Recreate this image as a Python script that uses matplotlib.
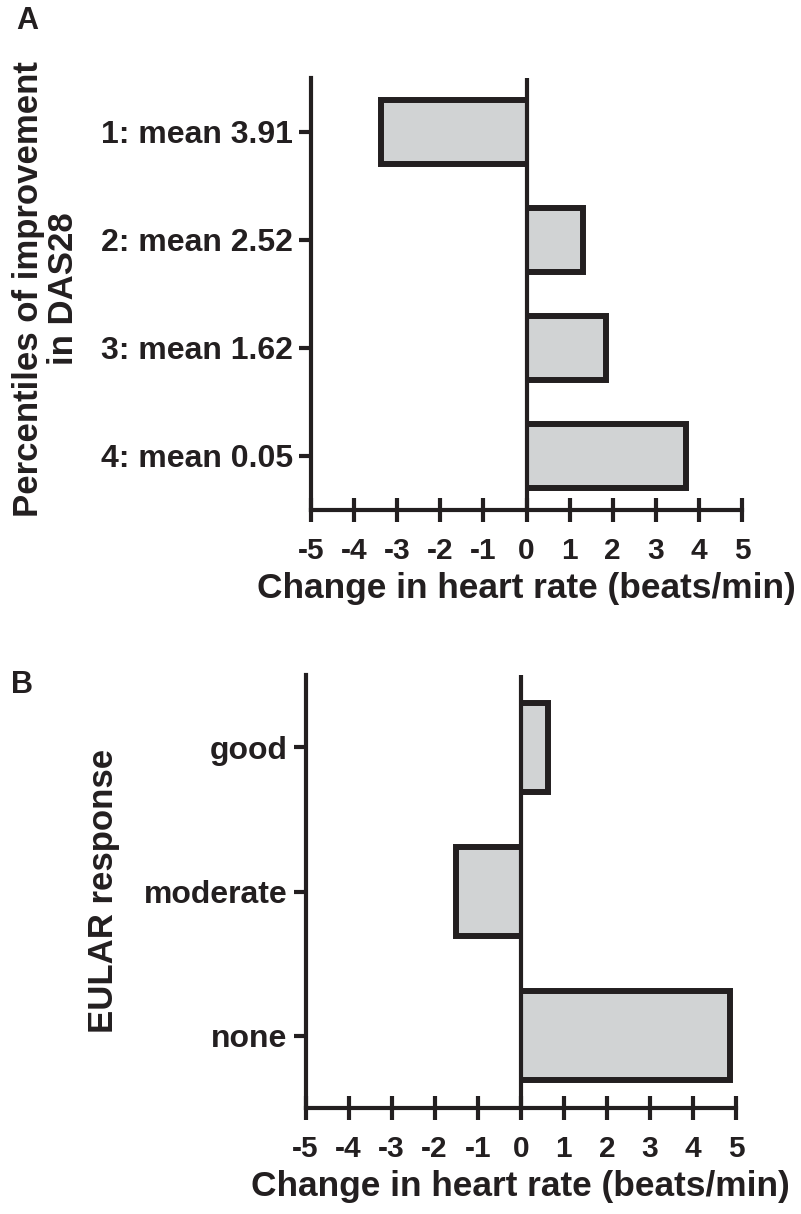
import matplotlib
matplotlib.use("Agg")
import matplotlib.pyplot as plt
import numpy as np

plt.rcParams['font.family'] = ['Liberation Sans', 'DejaVu Sans']
plt.rcParams['font.weight'] = 'bold'

# ---- data ----
cats_a = ["1: mean 3.91", "2: mean 2.52", "3: mean 1.62", "4: mean 0.05"]
vals_a = [-3.38, 1.30, 1.85, 3.71]
cats_b = ["good", "moderate", "none"]
vals_b = [0.64, -1.51, 4.86]
xticks = [-5, -4, -3, -2, -1, 0, 1, 2, 3, 4, 5]
xlabel = "Change in heart rate (beats/min)"
ylabel_a = "Percentiles of improvement\nin DAS28"
ylabel_b = "EULAR response"

INK = "#231f20"
FILL = "#d1d3d4"

W, H = 801, 1214
fig = plt.figure(figsize=(W / 100, H / 100), dpi=100)

axA = fig.add_axes([311 / W, 1 - 510 / H, 431 / W, 432 / H])
axB = fig.add_axes([305.5 / W, 1 - 1108 / H, 430.5 / W, 433 / H])


def draw(ax, cats, vals, bh):
    n = len(cats)
    ypos = np.arange(n)
    ax.barh(ypos, vals, height=bh, color=FILL, linewidth=0, zorder=2)
    for y, v in zip(ypos, vals):
        ax.plot([0, v, v, 0], [y - bh / 2, y - bh / 2, y + bh / 2, y + bh / 2],
                color=INK, lw=4.3, solid_joinstyle='miter', solid_capstyle='butt',
                zorder=3)
    ax.axvline(0, color=INK, lw=3.0, zorder=4)
    ax.set_xlim(-5, 5)
    ax.set_ylim(n - 0.5, -0.5)
    ax.set_yticks(ypos)
    ax.set_yticklabels(cats)
    ax.set_xticks(xticks)
    ax.set_xticklabels([str(t) for t in xticks])
    for s in ['top', 'right']:
        ax.spines[s].set_visible(False)
    for s in ['left', 'bottom']:
        ax.spines[s].set_linewidth(3.0)
        ax.spines[s].set_color(INK)
    ax.tick_params(axis='x', direction='inout', length=17, width=3.0, color=INK,
                   labelsize=21.5, pad=11, labelcolor=INK)
    ax.tick_params(axis='y', direction='out', length=8.8, width=3.0, color=INK,
                   labelsize=23, pad=4, labelcolor=INK)
    ax.set_xlabel(xlabel, fontsize=25.4, fontweight='bold', color=INK, labelpad=5.3)
    for lab in ax.get_xticklabels() + ax.get_yticklabels():
        lab.set_fontweight('bold')


draw(axA, cats_a, vals_a, 0.60)
draw(axB, cats_b, vals_b, 0.615)

fig.text(46 / W, 1 - 289 / H, ylabel_a, rotation=90, ha='center', va='center',
         multialignment='center', fontsize=25, fontweight='bold', color=INK,
         linespacing=1.1)
fig.text(103 / W, 1 - 891 / H, ylabel_b, rotation=90, ha='center', va='center',
         fontsize=25, fontweight='bold', color=INK)

fig.text(27 / W, 1 - 21 / H, "A", ha='center', va='center', fontsize=22,
         fontweight='bold', color=INK)
fig.text(22 / W, 1 - 685 / H, "B", ha='center', va='center', fontsize=22,
         fontweight='bold', color=INK)

fig.savefig("out.png", dpi=100, facecolor='white')
